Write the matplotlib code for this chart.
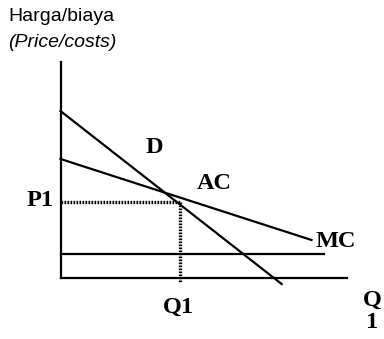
import numpy as np
import matplotlib.pyplot as plt

# Kurva permintaan (D), biaya rata-rata (AC) dan biaya marjinal (MC)
q_d = [0.0, 7.72]
p_d = [7.73, -0.28]
q_ac = [0.0, 8.76]
p_ac = [5.51, 1.76]
q_mc = [0.0, 9.18]
p_mc = [1.11, 1.11]

# Titik keseimbangan
q1 = 4.16
p1 = 3.54

fig = plt.figure(figsize=(3.84, 3.39), dpi=100)
ax = fig.add_axes([60.5 / 384, (339 - 278) / 339, 286.5 / 384, 216 / 339])
ax.set_xlim(0, 10)
ax.set_ylim(0, 10)

ax.plot(q_d, p_d, 'k-', lw=1.6, clip_on=False)
ax.plot(q_ac, p_ac, 'k-', lw=1.6, clip_on=False)
ax.plot(q_mc, p_mc, 'k-', lw=1.6, clip_on=False)

# Garis putus-putus ke P1 dan Q1
ax.plot([0, q1], [p1, p1], color='k', lw=2.4, ls=(0, (0.5, 0.4)), clip_on=False)
ax.plot([q1, q1], [p1, -0.23], color='k', lw=2.4, ls=(0, (0.5, 0.4)), clip_on=False)

for s in ['top', 'right']:
    ax.spines[s].set_visible(False)
for s in ['left', 'bottom']:
    ax.spines[s].set_linewidth(1.6)
ax.set_xticks([])
ax.set_yticks([])
ax.patch.set_alpha(0)

serif = dict(family='Liberation Serif', fontweight='bold', fontsize=17.5, clip_on=False)
ax.text(3.28, 6.06, 'D', ha='center', va='center', **serif)
ax.text(5.38, 4.38, 'AC', ha='center', va='center', **serif)
ax.text(8.9, 1.71, 'MC', ha='left', va='center', **serif)
ax.text(-0.26, 3.59, 'P1', ha='right', va='center', **serif)
ax.text(4.13, -1.37, 'Q1', ha='center', va='center', **serif)
ax.text(10.89, -1.55, 'Q\n1', ha='center', va='center', linespacing=1.1, **serif)

fig.text(8 / 384, 1 - 8 / 339, 'Harga/biaya', family='Liberation Sans', fontsize=14, va='top')
fig.text(8 / 384, 1 - 34 / 339, '(Price/costs)', family='Liberation Sans', fontsize=14,
         style='italic', va='top')

fig.savefig('out.png', dpi=100)
